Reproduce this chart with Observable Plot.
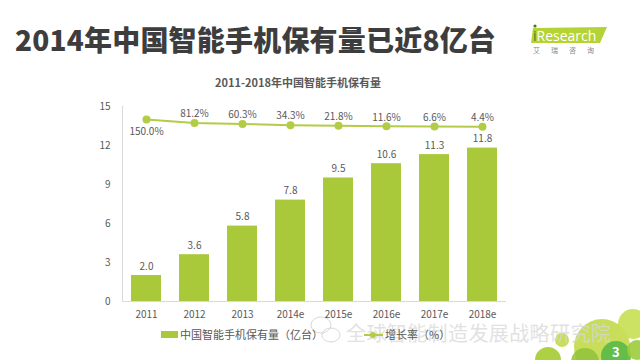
<!DOCTYPE html>
<html><head><meta charset="utf-8">
<script src="https://cdn.jsdelivr.net/npm/d3@7"></script>
<script src="https://cdn.jsdelivr.net/npm/@observablehq/plot@0.6"></script>
<style>
body{margin:0;background:#fff;font-family:"Noto Sans CJK SC","Noto Sans",sans-serif;}
#wrap{position:relative;width:640px;height:360px;overflow:hidden;background:#fff;}
#wrap > *{position:absolute;}
#title{left:15px;top:19px;font-size:28px;font-weight:900;color:#3d3d3d;letter-spacing:0.2px;white-space:nowrap;line-height:40px;}
#sub{left:0;width:596px;top:74px;text-align:center;font-size:11px;font-weight:bold;color:#595959;}
#legend{left:161px;top:326px;font-size:11px;color:#595959;white-space:nowrap;}
#wm{left:346px;top:318px;font-size:20px;color:#d8d8d8;opacity:0.75;white-space:nowrap;letter-spacing:0.4px;}
#logo{left:530px;top:24px;}
#page{left:612px;top:345px;font-size:13px;line-height:13px;font-weight:bold;color:#fff;}
</style></head>
<body>
<div id="wrap">
<svg id="deco" width="640" height="360" style="left:0;top:0">
  <circle cx="602" cy="347" r="28" fill="#c3da4c" opacity="0.92"/>
  <circle cx="633" cy="324" r="15" fill="#c8df55" opacity="0.92"/>
  <circle cx="562" cy="340" r="7" fill="#c3da4c" opacity="0.92"/>
  <circle cx="548" cy="360" r="13" fill="#a7cc36" opacity="0.92"/>
  <circle cx="585" cy="362" r="14" fill="#8fc23a" opacity="0.85"/>
  <circle cx="616" cy="356" r="15" fill="#5ab947" opacity="0.9"/>
  <circle cx="637" cy="350" r="10" fill="#9ccc3c" opacity="0.9"/>
  <g fill="none" stroke="#cfcfcf" stroke-width="1" opacity="0.8">
    <ellipse cx="321" cy="325" rx="10" ry="8"/>
    <ellipse cx="331" cy="335" rx="9" ry="7"/>
  </g>
</svg>
<div id="title">2014年中国智能手机保有量已近8亿台</div>
<svg id="logo" width="80" height="34">
  <polygon points="3,4 77,3 70,19 1,19" fill="#b5d334"/>
  <circle cx="5" cy="2" r="1.6" fill="#3a7d2c"/>
  <text x="3" y="16.5" font-family="Open Sans, sans-serif" font-size="14" fill="#fff"><tspan fill="#3a7d2c">i</tspan>Research</text>
  <text x="3" y="29" font-size="7" fill="#888" letter-spacing="11">艾瑞咨询</text>
</svg>
<div id="sub">2011-2018年中国智能手机保有量</div>
<div id="chart" style="left:0;top:0"></div>
<div id="wm">全球智能制造发展战略研究院</div>
<div id="legend"></div>
<div id="page">3</div>
</div>
<script>
const years = ["2011","2012","2013","2014e","2015e","2016e","2017e","2018e"];
const units = [2.0, 3.6, 5.8, 7.8, 9.5, 10.6, 11.3, 11.8];
const growth = [150.0, 81.2, 60.3, 34.3, 21.8, 11.6, 6.6, 4.4];
const yTicks = [0, 3, 6, 9, 12, 15];
const seriesNames = ["中国智能手机保有量（亿台）", "增长率（%）"];

const green = "#a9c83a";
const lineGreen = "#b3cc47";
const data = years.map((y, i) => ({year: y, units: units[i], growth: growth[i]}));
// secondary (hidden) axis for growth rate, mapped into primary units
const y2 = d3.scaleLinear().domain([-3600, 420]).range([0, 15]);
const gy = d => y2(d.growth);
const fmt = d => d.growth.toFixed(1) + "%";

const chart = Plot.plot({
  width: 640, height: 360,
  marginLeft: 122, marginRight: 134, marginTop: 106, marginBottom: 59,
  style: {fontFamily: '"Noto Sans CJK SC","Noto Sans",sans-serif', fontSize: "10px", color: "#595959", background: "transparent"},
  x: {domain: years, paddingInner: 0.375, paddingOuter: 0.1875, label: null, tickSize: 0, tickPadding: 9},
  y: {domain: [0, 15], ticks: yTicks, label: null, tickSize: 0, tickPadding: 12},
  marks: [
    Plot.ruleX([years[0]], {x: d => d, dx: -24, y1: 0, y2: 15, stroke: "#d9d9d9"}),
    Plot.barY(data, {x: "year", y: "units", fill: green}),
    Plot.ruleY([0], {stroke: "#d9d9d9"}),
    Plot.text(data, {x: "year", y: "units", text: d => d.units.toFixed(1), dy: -9, fill: "#595959", fontSize: 10}),
    Plot.line(data, {x: "year", y: gy, stroke: lineGreen, strokeWidth: 2}),
    Plot.dot(data, {x: "year", y: gy, r: 4, fill: lineGreen}),
    Plot.text(data.filter(d => d.growth > 100), {x: "year", y: gy, text: fmt, dy: 12, fill: "#595959", fontSize: 10}),
    Plot.text(data.filter(d => d.growth <= 100), {x: "year", y: gy, text: fmt, dy: -9, fill: "#595959", fontSize: 10})
  ]
});
document.getElementById("chart").appendChild(chart);

document.getElementById("legend").innerHTML =
  `<svg width="300" height="18" style="overflow:visible">
     <rect x="0" y="5" width="17" height="7" fill="${green}"/>
     <text x="19" y="13" font-size="11" fill="#595959">${seriesNames[0]}</text>
     <line x1="203" x2="222" y1="9" y2="9" stroke="${lineGreen}" stroke-width="2"/>
     <circle cx="212" cy="9" r="3" fill="${lineGreen}"/>
     <text x="224" y="13" font-size="11" fill="#595959">${seriesNames[1]}</text>
   </svg>`;
</script>
</body></html>
